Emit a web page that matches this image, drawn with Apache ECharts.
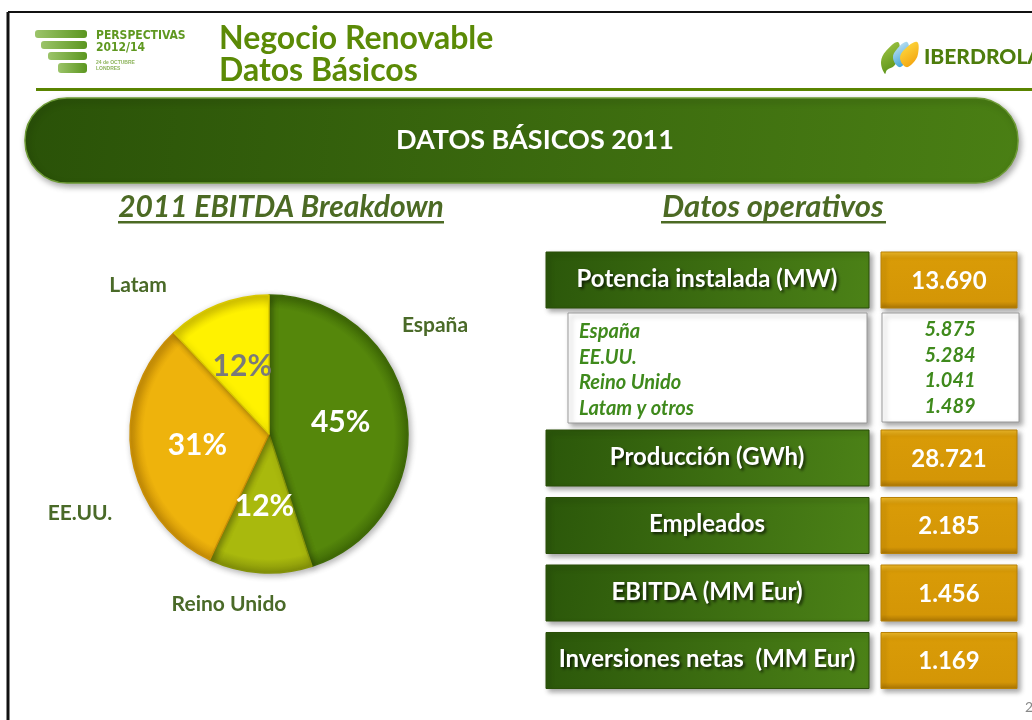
<!DOCTYPE html>
<html>
<head>
<meta charset="utf-8">
<script src="https://cdn.jsdelivr.net/npm/echarts@6/dist/echarts.min.js"></script>
<style>
html, body { margin: 0; padding: 0; background: #fff; }
#main { width: 1032px; height: 720px; }
</style>
</head>
<body>
<div id="main"></div>
<script>
// EBITDA 2011 por región (%)
const regions = ['España', 'Reino Unido', 'EE.UU.', 'Latam'];
const ebitdaShare = [45, 12, 31, 12];
const sliceColors = ['#55870b', '#a9b90d', '#eeb30c', '#fff200'];
const sliceEdges = ['#3f6a06', '#849209', '#c98f06', '#d9c800'];
const pctLabelColors = ['#fff', '#fff', '#fff', '#7a7a7a'];
// sitio de los nombres alrededor de la tarta
const outerLabelPos = [[435, 325], [229, 604], [80, 513], [138, 285]];

// Datos operativos
const metricNames = ['Potencia instalada (MW)', 'Producción (GWh)', 'Empleados', 'EBITDA (MM Eur)', 'Inversiones netas  (MM Eur)'];
const metricValues = [13690, 28721, 2185, 1456, 1169];
const capacityRegions = ['España', 'EE.UU.', 'Reino Unido', 'Latam y otros'];
const capacityMW = [5875, 5284, 1041, 1489];

const FONT = 'Lato, "Open Sans", sans-serif';

function fmt(n) {
    return String(n).replace(/\B(?=(\d{3})+(?!\d))/g, '.');
}

const chart = echarts.init(document.getElementById('main'));

function lin(x2, y2, stops) {
    return {type: 'linear', x: 0, y: 0, x2: x2, y2: y2, colorStops: stops};
}
const greenFill = lin(1, 1, [
    {offset: 0, color: '#2b570a'},
    {offset: 1, color: '#4c8217'}
]);
const orangeFill = lin(0, 1, [
    {offset: 0, color: '#f2bd2c'},
    {offset: 0.12, color: '#d99b07'},
    {offset: 0.88, color: '#d49606'},
    {offset: 1, color: '#a87404'}
]);

const graphics = [];

// marco
graphics.push({type: 'line', shape: {x1: 8, y1: 12, x2: 1032, y2: 12}, style: {stroke: '#111', lineWidth: 2}});
graphics.push({type: 'line', shape: {x1: 8, y1: 12, x2: 8, y2: 720}, style: {stroke: '#111', lineWidth: 3}});
// línea verde cabecera
graphics.push({type: 'rect', shape: {x: 36, y: 88, width: 996, height: 3}, style: {fill: '#5a8400'}});

// logo perspectivas
[[35, 30, 52], [41, 41, 46], [48, 52, 39], [58, 63, 29]].forEach(function (b) {
    graphics.push({
        type: 'rect', shape: {x: b[0], y: b[1], width: b[2], height: b[1] === 63 ? 10 : 8, r: 3},
        style: {fill: lin(1, 0, [{offset: 0, color: '#9cc46a'}, {offset: 1, color: '#5b961f'}])}
    });
});
graphics.push({type: 'text', x: 96, y: 30, style: {text: 'PERSPECTIVAS', font: 'bold 12px "DejaVu Sans Condensed", sans-serif', fill: '#5f9820'}});
graphics.push({type: 'text', x: 96, y: 42, style: {text: '2012/14', font: 'bold 12px "DejaVu Sans Condensed", sans-serif', fill: '#5f9820'}});
graphics.push({type: 'text', x: 96, y: 60, style: {text: '24 de OCTUBRE', font: 'bold 5px sans-serif', fill: '#8db45c'}});
graphics.push({type: 'text', x: 96, y: 66, style: {text: 'LONDRES', font: 'bold 5px sans-serif', fill: '#8db45c'}});

// título
graphics.push({type: 'text', x: 219, y: 23, style: {text: 'Negocio Renovable', font: 'bold 32px ' + FONT, fill: '#5b8a06'}});
graphics.push({type: 'text', x: 219, y: 55, style: {text: 'Datos Básicos', font: 'bold 32px ' + FONT, fill: '#5b8a06'}});

// logo iberdrola: hojas
graphics.push({type: 'polygon', shape: {points: [[885, 74], [881, 62], [886, 51], [898, 42], [899, 56], [894, 66], [887, 70]], smooth: 0.4}, style: {fill: lin(1, 1, [{offset: 0, color: '#a5c947'}, {offset: 1, color: '#4f8a12'}])}});
graphics.push({type: 'polygon', shape: {points: [[899, 67], [893, 58], [897, 49], [907, 42], [909, 54], [905, 63]], smooth: 0.4}, style: {fill: lin(1, 1, [{offset: 0, color: '#d7ecf6'}, {offset: 1, color: '#2a9ad6'}])}});
graphics.push({type: 'polygon', shape: {points: [[906, 67], [900, 58], [905, 49], [917, 42], [918, 54], [913, 63]], smooth: 0.4}, style: {fill: lin(1, 1, [{offset: 0, color: '#ffe34a'}, {offset: 1, color: '#f29a06'}])}});
graphics.push({type: 'text', x: 924, y: 47, style: {text: 'IBERDROLA', font: '900 21px ' + FONT, fill: '#4e7d0c'}});

// banda principal
graphics.push({
    type: 'rect', shape: {x: 25, y: 98, width: 993, height: 85, r: 42},
    style: {
        fill: lin(1, 1, [{offset: 0, color: '#2a5208'}, {offset: 1, color: '#4a7f14'}]),
        stroke: '#6c9a34', lineWidth: 1.5,
        shadowBlur: 6, shadowOffsetX: 2, shadowOffsetY: 3, shadowColor: 'rgba(0,0,0,0.35)'
    }
});
graphics.push({type: 'text', x: 535, y: 140, style: {text: 'DATOS BÁSICOS 2011', font: 'bold 27px ' + FONT, fill: '#fff', align: 'center', verticalAlign: 'middle'}});

// subtítulos
graphics.push({type: 'text', x: 281, y: 207, style: {text: '2011 EBITDA Breakdown', font: 'italic bold 30px ' + FONT, fill: '#4c6a24', align: 'center', verticalAlign: 'middle'}});
graphics.push({type: 'rect', shape: {x: 118, y: 221, width: 326, height: 2.5}, style: {fill: '#4c6a24'}});
graphics.push({type: 'text', x: 773, y: 207, style: {text: 'Datos operativos', font: 'italic bold 31px ' + FONT, fill: '#4c6a24', align: 'center', verticalAlign: 'middle'}});
graphics.push({type: 'rect', shape: {x: 661, y: 221, width: 225, height: 2.5}, style: {fill: '#4c6a24'}});

// tabla de datos operativos
const boxShadow = {shadowBlur: 5, shadowOffsetX: 3, shadowOffsetY: 3, shadowColor: 'rgba(0,0,0,0.35)'};
metricNames.forEach(function (name, i) {
    const top = i === 0 ? 252 : 430 + (i - 1) * 67.5;
    graphics.push({type: 'rect', shape: {x: 546, y: top, width: 323, height: 56}, style: Object.assign({fill: greenFill, stroke: '#2a4e08', lineWidth: 1}, boxShadow)});
    graphics.push({type: 'text', x: 707, y: top + 27, style: {text: name, font: 'bold 24px ' + FONT, fill: '#fff', align: 'center', verticalAlign: 'middle', textShadowColor: 'rgba(0,0,0,0.7)', textShadowBlur: 3, textShadowOffsetX: 2, textShadowOffsetY: 2}});
    graphics.push({type: 'rect', shape: {x: 881, y: top, width: 136, height: 56}, style: Object.assign({fill: orangeFill, stroke: '#b88106', lineWidth: 1}, boxShadow)});
    graphics.push({type: 'text', x: 949, y: top + 29, style: {text: fmt(metricValues[i]), font: 'bold 24px ' + FONT, fill: '#fff', align: 'center', verticalAlign: 'middle'}});
});

// desglose de potencia
graphics.push({type: 'rect', shape: {x: 568, y: 313, width: 299, height: 110}, style: Object.assign({fill: '#fff', stroke: '#9a9a9a', lineWidth: 1}, boxShadow)});
graphics.push({type: 'rect', shape: {x: 882, y: 313, width: 137, height: 109}, style: Object.assign({fill: '#fff', stroke: '#9a9a9a', lineWidth: 1}, boxShadow)});
capacityRegions.forEach(function (r, i) {
    const y = 332 + i * 25.5;
    graphics.push({type: 'text', x: 579, y: y, style: {text: r, font: 'italic bold 20px ' + FONT, fill: '#3f8a1c', verticalAlign: 'middle'}});
    graphics.push({type: 'text', x: 950, y: y - 2, style: {text: fmt(capacityMW[i]), font: 'italic bold 20px ' + FONT, fill: '#3f8a1c', align: 'center', verticalAlign: 'middle'}});
});

// número de página
graphics.push({type: 'text', x: 1025, y: 700, style: {text: '2', font: '14px ' + FONT, fill: '#888'}});

const pieData = regions.map(function (r, i) {
    return {
        name: r,
        value: ebitdaShare[i],
        itemStyle: {
            color: {
                type: 'radial', x: 269, y: 434, r: 139, global: true,
                colorStops: [
                    {offset: 0, color: sliceColors[i]},
                    {offset: 0.9, color: sliceColors[i]},
                    {offset: 1, color: sliceEdges[i]}
                ]
            },
            borderColor: sliceEdges[i]
        },
        label: {color: pctLabelColors[i]}
    };
});

chart.setOption({
    backgroundColor: '#fff',
    animation: false,
    graphic: graphics,
    series: [
        {
            type: 'pie',
            center: [269, 434],
            radius: [0, 139],
            startAngle: 90,
            clockwise: true,
            itemStyle: {
                borderWidth: 1.5,
                shadowBlur: 6,
                shadowOffsetX: 2,
                shadowOffsetY: 2,
                shadowColor: 'rgba(0,0,0,0.3)'
            },
            label: {
                show: true,
                position: 'inside',
                formatter: '{c}%',
                fontFamily: 'Lato, sans-serif',
                fontWeight: 'bold',
                fontSize: 30
            },
            labelLine: {show: false},
            data: pieData
        },
        {
            // sólo para los nombres de región
            type: 'pie',
            center: [269, 434],
            radius: [0, 139],
            startAngle: 90,
            silent: true,
            z: 0,
            itemStyle: {color: 'rgba(0,0,0,0)'},
            label: {
                show: true,
                position: 'outside',
                formatter: '{b}',
                fontFamily: 'Lato, sans-serif',
                fontWeight: 'bold',
                fontSize: 21,
                color: '#4a6a28'
            },
            labelLine: {show: false},
            labelLayout: function (params) {
                const p = outerLabelPos[params.dataIndex];
                return {x: p[0], y: p[1], align: 'center', verticalAlign: 'middle'};
            },
            data: regions.map(function (r, i) { return {name: r, value: ebitdaShare[i]}; })
        }
    ]
});
</script>
</body>
</html>
